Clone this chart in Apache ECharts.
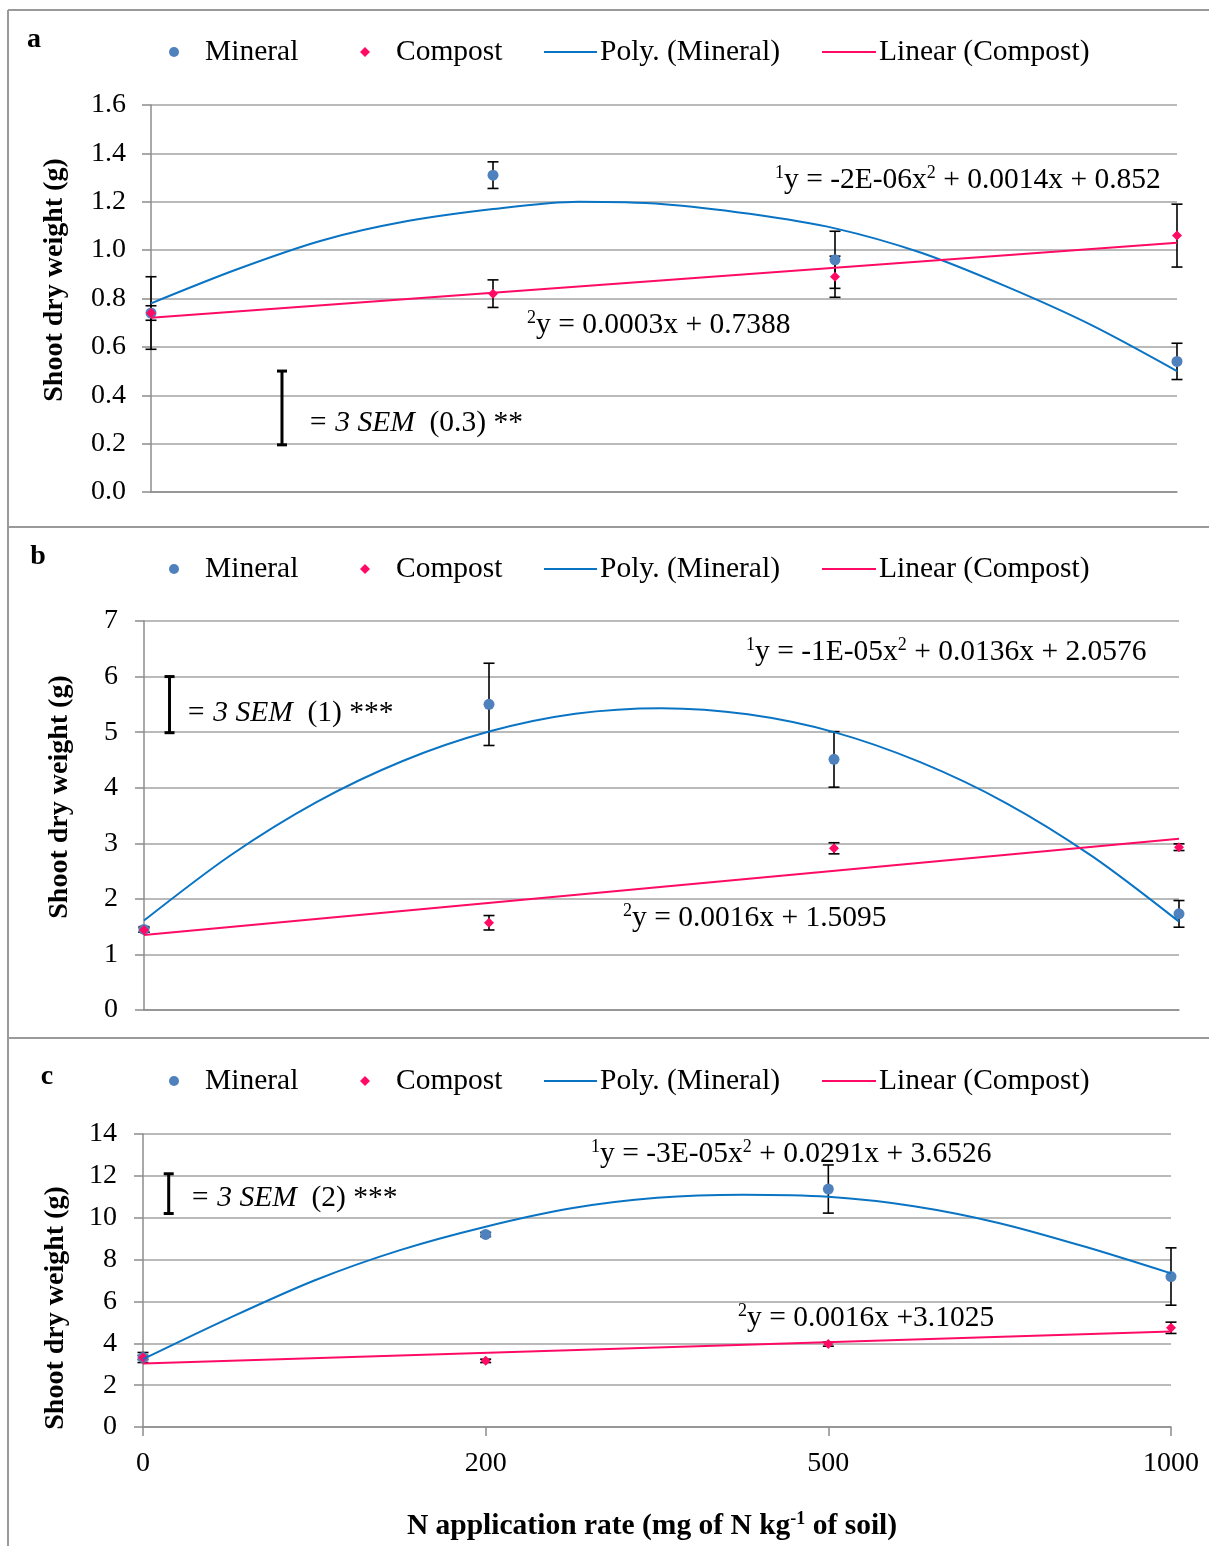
<!DOCTYPE html>
<html>
<head>
<meta charset="utf-8">
<script src="https://cdn.jsdelivr.net/npm/echarts@6/dist/echarts.min.js"></script>
<style>
  html, body { margin: 0; padding: 0; background: #fff; }
  #chart { width: 1209px; height: 1546px; }
</style>
</head>
<body>
<div id="chart"></div>
<script>
// N rates (categories) and positions on the hidden 0..3 x scale
const doses = ['0', '200', '500', '1000']
const xIdx = [0, 1, 2, 3]
// points along the trend lines
const curveT = [0, 0.25, 0.5, 0.75, 1, 1.25, 1.5, 1.75, 2, 2.25, 2.5, 2.75, 3]
const lineT = [0, 3]

// panel a
const mineralA = [0.74, 1.31, 0.96, 0.54]
const mineralErrA = [0.15, 0.055, 0.118, 0.075]
const compostA = [0.74, 0.82, 0.89, 1.06]
const compostErrA = [0.03, 0.057, 0.085, 0.13]
const polyA = [0.78, 0.92, 1.04, 1.12, 1.17, 1.2, 1.19, 1.15, 1.09, 0.99, 0.85, 0.69, 0.5]
const linearA = [0.72, 1.03]
const semA = [0.383, 0.195, 0.5]

// panel b
const mineralB = [1.45, 5.5, 4.51, 1.73]
const mineralErrB = [0.05, 0.74, 0.5, 0.24]
const compostB = [1.44, 1.57, 2.91, 2.93]
const compostErrB = [0.04, 0.13, 0.1, 0.06]
const polyB = [1.61, 2.78, 3.74, 4.48, 5.01, 5.33, 5.43, 5.32, 5.0, 4.46, 3.72, 2.76, 1.59]
const linearB = [1.35, 3.08]
const semB = [0.074, 4.99, 6.0]

// panel c
const mineralC = [3.32, 9.2, 11.37, 7.19]
const mineralErrC = [0.24, 0.1, 1.15, 1.37]
const compostC = [3.32, 3.16, 3.96, 4.74]
const compostErrC = [0.1, 0.08, 0.1, 0.27]
const polyC = [3.24, 5.19, 7.0, 8.45, 9.57, 10.45, 10.95, 11.1, 11.0, 10.55, 9.74, 8.61, 7.34]
const linearC = [3.03, 4.56]
const semC = [0.075, 10.2, 12.1]

const FONT = '"Liberation Serif", "Times New Roman", serif'
const GRID_C = '#a3a3a3'
const AXIS_C = '#8c8c8c'
const BLUE_PT = '#4f81bd'
const BLUE_LN = '#0a74c4'
const PINK = '#ff0a64'

const chart = echarts.init(document.getElementById('chart'))

function pts(xs, ys) {
  return xs.map((x, i) => [x, ys[i]])
}
function bars(ys, errs) {
  return xIdx.map((x, i) => [x, ys[i] - errs[i], ys[i] + errs[i]])
}
function errRender(cap, lw) {
  return function (params, api) {
    const x = api.value(0)
    const top = api.coord([x, api.value(2)])
    const bot = api.coord([x, api.value(1)])
    const st = { stroke: '#000', lineWidth: lw }
    return {
      type: 'group',
      children: [
        { type: 'line', shape: { x1: top[0], y1: top[1], x2: bot[0], y2: bot[1] }, style: st },
        { type: 'line', shape: { x1: top[0] - cap / 2, y1: top[1], x2: top[0] + cap / 2, y2: top[1] }, style: st },
        { type: 'line', shape: { x1: bot[0] - cap / 2, y1: bot[1], x2: bot[0] + cap / 2, y2: bot[1] }, style: st }
      ]
    }
  }
}

const panels = [
  { top: 105, height: 387, left: 151, right: 32, max: 1.6, step: 0.2, dec: 1, margin: 25,
    m: mineralA, me: mineralErrA, c: compostA, ce: compostErrA, poly: polyA, lin: linearA, sem: semA },
  { top: 621, height: 389, left: 144, right: 30, max: 7, step: 1, dec: 0, margin: 26,
    m: mineralB, me: mineralErrB, c: compostB, ce: compostErrB, poly: polyB, lin: linearB, sem: semB },
  { top: 1134, height: 293, left: 143, right: 38, max: 14, step: 2, dec: 0, margin: 26,
    m: mineralC, me: mineralErrC, c: compostC, ce: compostErrC, poly: polyC, lin: linearC, sem: semC }
]

// one legend component per entry so each icon gets its own size and spacing
const legendItems = [
  { name: 'Mineral', icon: 'circle', left: 169, w: 10, pad: 21 },
  { name: 'Compost', icon: 'diamond', left: 360, w: 10, pad: 21 },
  { name: 'Poly. (Mineral)', left: 543, w: 53, pad: -2, hideSym: true },
  { name: 'Linear (Compost)', left: 821, w: 54, pad: -2, hideSym: true }
]
const legendTops = [37, 554, 1066]

const grid = [], xAxis = [], yAxis = [], series = [], legend = []

panels.forEach((p, k) => {
  grid.push({ left: p.left, right: p.right, top: p.top, height: p.height })
  xAxis.push({
    type: 'value', gridIndex: k, min: 0, max: 3, interval: 1,
    axisLine: { show: true, lineStyle: { color: AXIS_C, width: 1.5 } },
    axisTick: { show: k === 2, length: 9, lineStyle: { color: AXIS_C, width: 1.5 } },
    axisLabel: {
      show: k === 2, margin: 23, color: '#000', fontSize: 28, fontFamily: FONT,
      formatter: v => doses[v]
    },
    splitLine: { show: false }
  })
  yAxis.push({
    type: 'value', gridIndex: k, min: 0, max: p.max, interval: p.step,
    axisLine: { show: true, lineStyle: { color: AXIS_C, width: 1.5 } },
    axisTick: { show: true, length: 9, lineStyle: { color: AXIS_C, width: 1.5 } },
    axisLabel: {
      margin: p.margin, color: '#000', fontSize: 28, fontFamily: FONT,
      formatter: v => v.toFixed(p.dec)
    },
    splitLine: { show: true, lineStyle: { color: GRID_C, width: 1.5 } }
  })
  legendItems.forEach(it => {
    const d = { name: it.name }
    if (it.icon) d.icon = it.icon
    if (it.hideSym) d.itemStyle = { opacity: 0 }
    legend.push({
      top: legendTops[k], left: it.left, itemWidth: it.w, itemHeight: 10,
      selectedMode: false, padding: 0,
      textStyle: { fontSize: 29.5, fontFamily: FONT, color: '#000', padding: [0, 0, 0, it.pad] },
      data: [d]
    })
  })
  series.push(
    {
      type: 'custom', name: 'err' + k, xAxisIndex: k, yAxisIndex: k, z: 2,
      renderItem: errRender(11, 1.6), data: bars(p.m, p.me)
    },
    {
      type: 'custom', name: 'errc' + k, xAxisIndex: k, yAxisIndex: k, z: 2,
      renderItem: errRender(11, 1.6), data: bars(p.c, p.ce)
    },
    {
      type: 'custom', name: 'sem' + k, xAxisIndex: k, yAxisIndex: k, z: 2,
      renderItem: errRender(10, 3), data: [p.sem]
    },
    {
      type: 'scatter', name: 'Mineral', xAxisIndex: k, yAxisIndex: k, z: 3,
      symbol: 'circle', symbolSize: 11, itemStyle: { color: BLUE_PT, opacity: 1 },
      data: pts(xIdx, p.m)
    },
    {
      type: 'scatter', name: 'Compost', xAxisIndex: k, yAxisIndex: k, z: 4,
      symbol: 'diamond', symbolSize: 10, itemStyle: { color: PINK, opacity: 1 },
      data: pts(xIdx, p.c)
    },
    {
      type: 'line', name: 'Poly. (Mineral)', xAxisIndex: k, yAxisIndex: k, z: 5,
      smooth: 0.3, symbol: 'none', lineStyle: { color: BLUE_LN, width: 2 },
      itemStyle: { color: BLUE_LN }, data: pts(curveT, p.poly)
    },
    {
      type: 'line', name: 'Linear (Compost)', xAxisIndex: k, yAxisIndex: k, z: 5,
      symbol: 'none', lineStyle: { color: PINK, width: 2 },
      itemStyle: { color: PINK }, data: pts(lineT, p.lin)
    }
  )
})

const eqRich = {
  n: { fontSize: 29.5, fontFamily: FONT, color: '#000', lineHeight: 32 },
  s: { fontSize: 18, fontFamily: FONT, color: '#000', lineHeight: 18, verticalAlign: 'top' },
  i: { fontSize: 29.5, fontFamily: FONT, color: '#000', fontStyle: 'italic', lineHeight: 32 },
  b: { fontSize: 29.5, fontFamily: FONT, color: '#000', fontWeight: 'bold', lineHeight: 32 },
  bs: { fontSize: 18, fontFamily: FONT, color: '#000', fontWeight: 'bold', lineHeight: 18, verticalAlign: 'top' }
}
function label(x, y, text, align) {
  return {
    type: 'text', x: x, y: y, z: 10,
    style: { text: text, rich: eqRich, align: align || 'left', verticalAlign: 'middle' }
  }
}
function frameLine(x1, y1, x2, y2) {
  return { type: 'line', shape: { x1, y1, x2, y2 }, style: { stroke: '#9a9a9a', lineWidth: 2 }, z: 0 }
}
function yTitle(x, y) {
  return {
    type: 'text', x: x, y: y, rotation: Math.PI / 2, z: 10,
    style: {
      text: 'Shoot dry weight (g)', fontSize: 28, fontWeight: 'bold', fontFamily: FONT,
      fill: '#000', align: 'center', verticalAlign: 'middle'
    }
  }
}
function letter(x, y, t) {
  return {
    type: 'text', x: x, y: y, z: 10,
    style: { text: t, fontSize: 28, fontWeight: 'bold', fontFamily: FONT, fill: '#000', align: 'center', verticalAlign: 'middle' }
  }
}

const graphic = [
  frameLine(8, 10, 1209, 10),
  frameLine(8, 10, 8, 1546),
  frameLine(8, 527, 1209, 527),
  frameLine(8, 1038, 1209, 1038),
  letter(34, 40, 'a'),
  letter(38, 557, 'b'),
  letter(47, 1077, 'c'),
  yTitle(55, 280),
  yTitle(60, 797),
  yTitle(56, 1308),
  label(775, 180, '{s|1}{n|y = -2E-06x}{s|2}{n| + 0.0014x + 0.852}'),
  label(527, 325, '{s|2}{n|y = 0.0003x + 0.7388}'),
  label(308, 423, '{i|= 3 SEM}{n|  (0.3) **}'),
  label(746, 652, '{s|1}{n|y = -1E-05x}{s|2}{n| + 0.0136x + 2.0576}'),
  label(623, 918, '{s|2}{n|y = 0.0016x + 1.5095}'),
  label(186, 713, '{i|= 3 SEM}{n|  (1) ***}'),
  label(591, 1154, '{s|1}{n|y = -3E-05x}{s|2}{n| + 0.0291x + 3.6526}'),
  label(738, 1318, '{s|2}{n|y = 0.0016x +3.1025}'),
  label(190, 1198, '{i|= 3 SEM}{n|  (2) ***}'),
  label(652, 1526, '{b|N application rate (mg of N kg}{bs|-1}{b| of soil)}', 'center')
]

chart.setOption({
  backgroundColor: '#fff',
  animation: false,
  grid: grid,
  xAxis: xAxis,
  yAxis: yAxis,
  legend: legend,
  graphic: graphic,
  series: series
})
</script>
</body>
</html>
